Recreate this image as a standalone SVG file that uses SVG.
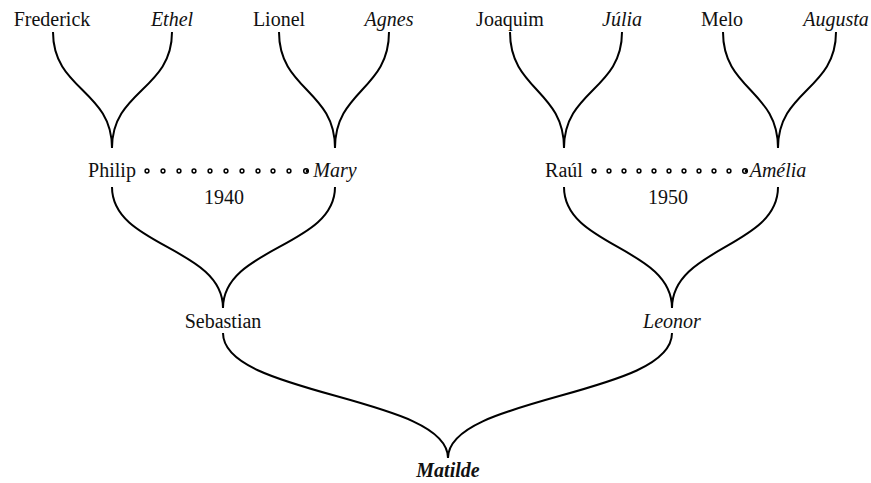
<svg xmlns="http://www.w3.org/2000/svg" width="871" height="483" viewBox="0 0 871 483" font-family="Liberation Serif">
<style>
.t{font-size:20px;fill:#111;text-anchor:middle}
.f{font-style:italic}
.b{font-weight:bold;font-style:italic}
.e{fill:none;stroke:#000;stroke-width:2}
.d{fill:none;stroke:#000;stroke-width:1.5}
</style>
<rect width="871" height="483" fill="#fff"/>
<g id="connectors">
<path class="e" d="M53,32 C53,90 112,90 112,148"/>
<path class="e" d="M172,32 C172,90 112,90 112,148"/>
<path class="e" d="M279,32 C279,90 335,90 335,148"/>
<path class="e" d="M389,32 C389,90 335,90 335,148"/>
<path class="e" d="M510,32 C510,90 564,90 564,148"/>
<path class="e" d="M622,32 C622,90 564,90 564,148"/>
<path class="e" d="M723,32 C723,90 778,90 778,148"/>
<path class="e" d="M836,32 C836,90 778,90 778,148"/>
<path class="e" d="M112,187 C112,247 223,247 223,308"/>
<path class="e" d="M335,187 C335,247 223,247 223,308"/>
<path class="e" d="M564,187 C564,247 672,247 672,308"/>
<path class="e" d="M778,187 C778,247 672,247 672,308"/>
<path class="e" d="M223,333 C223,396 448,396 448,458"/>
<path class="e" d="M672,333 C672,396 448,396 448,458"/>
<g id="marriage1">
<circle class="d" cx="147" cy="171" r="1.9"/><circle class="d" cx="163" cy="171" r="1.9"/><circle class="d" cx="179" cy="171" r="1.9"/><circle class="d" cx="194" cy="171" r="1.9"/><circle class="d" cx="210" cy="171" r="1.9"/><circle class="d" cx="226" cy="171" r="1.9"/><circle class="d" cx="242" cy="171" r="1.9"/><circle class="d" cx="258" cy="171" r="1.9"/><circle class="d" cx="273" cy="171" r="1.9"/><circle class="d" cx="289" cy="171" r="1.9"/>
<circle class="d" cx="306" cy="171" r="2.3"/><circle cx="307.2" cy="171" r="1.5" fill="#000"/>
</g>
<g id="marriage2">
<circle class="d" cx="594" cy="171" r="1.9"/><circle class="d" cx="609" cy="171" r="1.9"/><circle class="d" cx="624" cy="171" r="1.9"/><circle class="d" cx="639" cy="171" r="1.9"/><circle class="d" cx="654" cy="171" r="1.9"/><circle class="d" cx="669" cy="171" r="1.9"/><circle class="d" cx="684" cy="171" r="1.9"/><circle class="d" cx="699" cy="171" r="1.9"/><circle class="d" cx="714" cy="171" r="1.9"/><circle class="d" cx="729" cy="171" r="1.9"/>
<circle class="d" cx="745" cy="171" r="2.3"/><circle cx="746.2" cy="171" r="1.5" fill="#000"/>
</g>
<text class="t" font-family="Times New Roman" x="224" y="204">1940</text>
<text class="t" font-family="Times New Roman" x="668" y="204">1950</text>
</g>
<g id="frederick"><text class="t" font-family="Times New Roman" x="52" y="26">Frederick</text></g>
<g id="ethel"><text class="t f" font-family="Times New Roman" x="172" y="26">Ethel</text></g>
<g id="lionel"><text class="t" font-family="Times New Roman" x="279" y="26">Lionel</text></g>
<g id="agnes"><text class="t f" font-family="Times New Roman" x="389" y="26">Agnes</text></g>
<g id="joaquim"><text class="t" font-family="Times New Roman" x="510" y="26">Joaquim</text></g>
<g id="julia"><text class="t f" font-family="Times New Roman" x="622" y="26">Júlia</text></g>
<g id="melo"><text class="t" font-family="Times New Roman" x="722" y="26">Melo</text></g>
<g id="augusta"><text class="t f" font-family="Times New Roman" x="836" y="26">Augusta</text></g>
<g id="philip"><text class="t" font-family="Times New Roman" x="112" y="177">Philip</text></g>
<g id="mary"><text class="t f" font-family="Times New Roman" x="335" y="177">Mary</text></g>
<g id="raul"><text class="t" font-family="Times New Roman" x="564" y="177">Raúl</text></g>
<g id="amelia"><text class="t f" font-family="Times New Roman" x="778" y="177">Amélia</text></g>
<g id="sebastian"><text class="t" font-family="Times New Roman" x="223" y="328">Sebastian</text></g>
<g id="leonor"><text class="t f" font-family="Times New Roman" x="672" y="328">Leonor</text></g>
<g id="matilde"><text class="t b" font-family="Times New Roman" x="448" y="477">Matilde</text></g>
</svg>
